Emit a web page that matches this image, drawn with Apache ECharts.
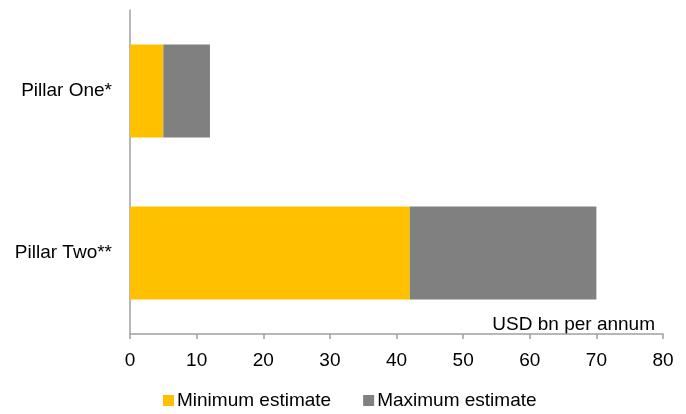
<!DOCTYPE html>
<html><head><meta charset="utf-8">
<script src="https://cdn.jsdelivr.net/npm/echarts@6/dist/echarts.min.js"></script>
<style>html,body{margin:0;padding:0;background:#fff}#c{width:686px;height:414px}</style>
</head><body><div id="c"></div>
<script>
const categories = ["Pillar One*", "Pillar Two**"];
const minEstimate = [5, 42];
const maxEstimate = [12, 70];
const seriesNames = ["Minimum estimate", "Maximum estimate"];
const unitLabel = "USD bn per annum";

const extra = maxEstimate.map((v, i) => v - minEstimate[i]);
const font = "Liberation Sans";
const fs = 19;
const chart = echarts.init(document.getElementById('c'), null, {renderer: 'canvas'});
chart.setOption({
  animation: false,
  textStyle: {fontFamily: font},
  grid: {left: 130, right: 23, top: 10, bottom: 80, containLabel: false},
  legend: {
    top: 391, left: 163, padding: 0,
    itemWidth: 11, itemHeight: 11, itemGap: 32,
    icon: 'rect',
    textStyle: {fontFamily: font, fontSize: fs, color: '#000', padding: [0, 0, 0, -2]},
    data: seriesNames
  },
  xAxis: {
    type: 'value', min: 0, max: 80, interval: 10,
    axisLine: {show: true, lineStyle: {color: '#a0a0a0', width: 1.5}},
    axisTick: {show: true, length: 5, lineStyle: {color: '#a0a0a0', width: 1.5}},
    axisLabel: {fontFamily: font, fontSize: fs, color: '#000', margin: 17},
    splitLine: {show: false}
  },
  yAxis: {
    type: 'category', data: categories, inverse: true,
    axisLine: {show: true, lineStyle: {color: '#a0a0a0', width: 1.5}},
    axisTick: {show: false},
    axisLabel: {fontFamily: font, fontSize: fs, color: '#000', margin: 18}
  },
  graphic: [{
    type: 'text', right: 31, top: 315,
    style: {text: unitLabel, fontFamily: font, fontSize: fs, fill: '#000'}
  }],
  series: [
    {name: seriesNames[0], type: 'bar', stack: 'a', data: minEstimate, barWidth: '57.5%',
     itemStyle: {color: '#FFC000'}},
    {name: seriesNames[1], type: 'bar', stack: 'a', data: extra, barWidth: '57.5%',
     itemStyle: {color: '#808080'}}
  ]
});
</script></body></html>
